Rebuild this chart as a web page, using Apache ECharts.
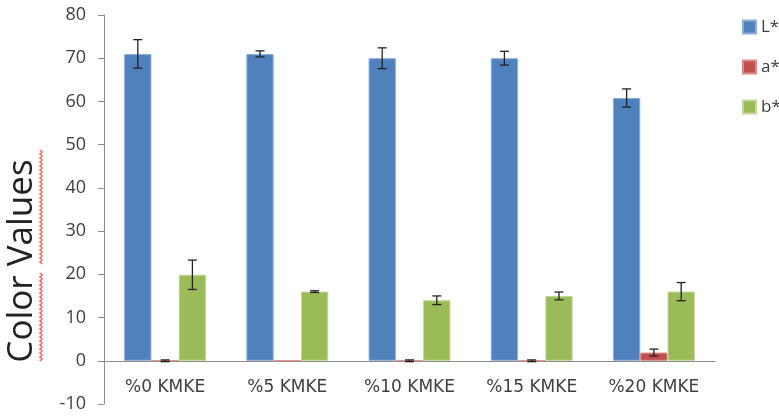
<!DOCTYPE html>
<html>
<head>
<meta charset="utf-8">
<script src="https://cdn.jsdelivr.net/npm/echarts@6/dist/echarts.min.js"></script>
<style>html,body{margin:0;padding:0;background:#fff}#c{width:779px;height:416px}</style>
</head>
<body>
<div id="c"></div>
<script>
var categories = ['%0 KMKE', '%5 KMKE', '%10 KMKE', '%15 KMKE', '%20 KMKE'];
var seriesNames = ['L*', 'a*', 'b*'];
var lValues = [71, 71, 70, 70, 60.8];
var aValues = [0, 0, 0, 0, 1.9];
var bValues = [19.9, 16, 14, 15, 16];
var lErrors = [3.3, 0.7, 2.4, 1.6, 2.1];
var aErrors = [0.2, 0, 0.2, 0.2, 0.8];
var bErrors = [3.4, 0.2, 1.0, 0.9, 2.1];
var yTicks = [-10, 0, 10, 20, 30, 40, 50, 60, 70, 80];

var colors = ['#4F81BD', '#C0504D', '#9BBB59'];
var borders = ['#8DAEDB', '#D98C8A', '#C0D89A'];
var catGap = 0.33;
var gridTop = 15, gridBottom = 12, H = 416;
var yMin = -10, yMax = 80;
var zeroOffset = -(0 - yMin) / (yMax - yMin) * (H - gridTop - gridBottom);

function errData(vals, errs) {
  var out = [];
  for (var i = 0; i < vals.length; i++) {
    if (errs[i] > 0) out.push([i, vals[i] - errs[i], vals[i] + errs[i]]);
  }
  return out;
}

function makeErr(idx) {
  return function (params, api) {
    var band = api.size([1, 0])[0];
    var bw = band * (1 - catGap) / 3;
    var off = (idx - 1) * bw;
    var lo = api.coord([api.value(0), api.value(1)]);
    var hi = api.coord([api.value(0), api.value(2)]);
    var x = lo[0] + off;
    var hw = 4.5;
    var st = { stroke: '#222', lineWidth: 1.3 };
    return {
      type: 'group',
      children: [
        { type: 'line', shape: { x1: x, y1: lo[1], x2: x, y2: hi[1] }, style: st },
        { type: 'line', shape: { x1: x - hw, y1: lo[1], x2: x + hw, y2: lo[1] }, style: st },
        { type: 'line', shape: { x1: x - hw, y1: hi[1], x2: x + hw, y2: hi[1] }, style: st }
      ]
    };
  };
}

function wavy(x, y0, y1) {
  var pts = [];
  var k = 0;
  for (var y = y0; y <= y1; y += 2) {
    pts.push([x + (k % 2 === 0 ? -1.3 : 1.3), y]);
    k++;
  }
  return pts;
}

var allVals = [lValues, aValues, bValues];
var allErrs = [lErrors, aErrors, bErrors];
var series = [];
for (var s = 0; s < 3; s++) {
  series.push({
    name: seriesNames[s],
    type: 'bar',
    data: allVals[s],
    barGap: '0%',
    barCategoryGap: (catGap * 100) + '%',
    itemStyle: { color: colors[s], borderColor: borders[s], borderWidth: 1 },
    z: 2
  });
}
for (var s2 = 0; s2 < 3; s2++) {
  series.push({
    type: 'custom',
    renderItem: makeErr(s2),
    data: errData(allVals[s2], allErrs[s2]),
    encode: { x: 0, y: [1, 2] },
    z: 5,
    silent: true
  });
}

var chart = echarts.init(document.getElementById('c'));
chart.setOption({
  animation: false,
  backgroundColor: '#fff',
  grid: { left: 104, right: 64, top: gridTop, bottom: gridBottom, containLabel: false, outerBoundsMode: 'none' },
  legend: {
    data: seriesNames,
    orient: 'vertical',
    left: 737,
    top: 13,
    icon: 'rect',
    itemWidth: 13,
    itemHeight: 13,
    itemGap: 22,
    textStyle: { fontFamily: 'Open Sans', fontSize: 17, color: '#404040', lineHeight: 18 }
  },
  xAxis: {
    type: 'category',
    data: categories,
    offset: zeroOffset,
    axisLine: { onZero: false, lineStyle: { color: '#8c8c8c', width: 1 } },
    axisTick: { show: false },
    axisLabel: { margin: 18, fontFamily: 'DejaVu Sans', fontSize: 17, color: '#404040' }
  },
  yAxis: {
    type: 'value',
    min: yMin,
    max: yMax,
    interval: 10,
    name: 'Color Values',
    nameLocation: 'middle',
    nameGap: 64,
    nameRotate: 90,
    nameTextStyle: { fontFamily: 'Open Sans', fontSize: 35, color: '#222', padding: [0, 103, 0, 0] },
    axisLine: { show: true, lineStyle: { color: '#8c8c8c', width: 1 } },
    axisTick: { show: true, length: 6, lineStyle: { color: '#8c8c8c' } },
    splitLine: { show: false },
    axisLabel: {
      margin: 18,
      fontFamily: 'Open Sans',
      fontSize: 18,
      color: '#404040',
      formatter: function (v) { return yTicks.indexOf(v) >= 0 ? String(v) : ''; }
    }
  },
  graphic: [
    { type: 'polyline', shape: { points: wavy(41, 150, 264) }, style: { stroke: '#ff5050', lineWidth: 1.1, fill: null } },
    { type: 'polyline', shape: { points: wavy(41, 273, 362) }, style: { stroke: '#ff5050', lineWidth: 1.1, fill: null } }
  ],
  series: series
});
</script>
</body>
</html>
